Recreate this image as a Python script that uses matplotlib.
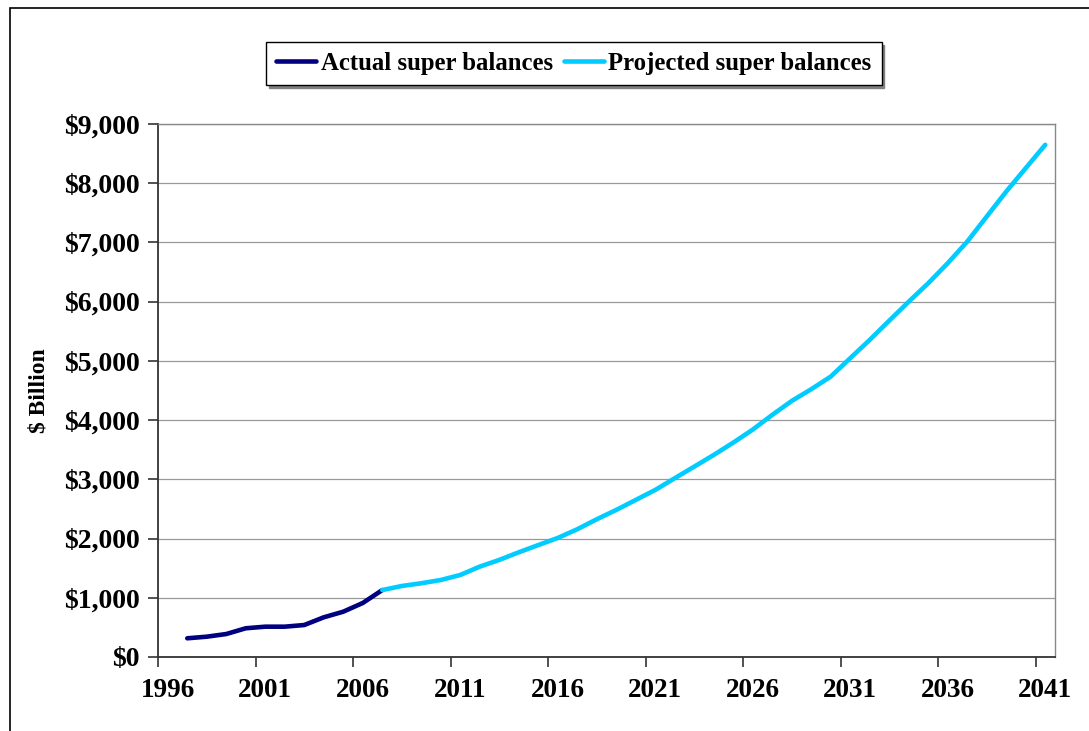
import matplotlib.pyplot as plt
from matplotlib.patches import Rectangle
from matplotlib.ticker import FuncFormatter

# Data ($ billion)
actual_years = list(range(1997, 2008))
actual_values = [316, 343, 388, 485, 512, 512, 540, 670, 765, 912, 1130]

projected_years = list(range(2007, 2042))
projected_values = [1130, 1199, 1245, 1300, 1385, 1526, 1639, 1768, 1890, 2010,
                    2157, 2326, 2483, 2652, 2821, 3019, 3215, 3412, 3620, 3840,
                    4088, 4324, 4522, 4735, 5046, 5355, 5680, 6000, 6312, 6650,
                    7015, 7438, 7860, 8255, 8649]

label_years = list(range(1996, 2042, 5))

plt.rcParams['font.family'] = ['Liberation Serif', 'DejaVu Serif']
plt.rcParams['font.weight'] = 'bold'

fig = plt.figure(figsize=(10.89, 7.31), dpi=100)
ax = fig.add_axes([158 / 1089, 1 - 657 / 731, (1055 - 158) / 1089, (657 - 124) / 731])

ax.plot(actual_years, actual_values, color='#000080', linewidth=3.3,
        solid_capstyle='round', solid_joinstyle='round', label='Actual super balances', zorder=3)
ax.plot(projected_years, projected_values, color='#00CCFF', linewidth=3.3,
        solid_capstyle='round', solid_joinstyle='round', label='Projected super balances', zorder=3)

ax.set_xlim(1995.5, 2041.5)
ax.set_ylim(0, 9000)

# category-style axis: ticks between categories, labels on categories
ax.set_xticks([y - 0.5 for y in label_years])
ax.set_xticklabels([])
ax.set_xticks(label_years, minor=True)
ax.set_xticklabels([str(y) for y in label_years], minor=True)
ax.tick_params(axis='x', which='major', direction='out', length=7, width=1.2, color='#333333')
ax.tick_params(axis='x', which='minor', length=0, pad=15, labelsize=19.5)

ax.set_yticks(range(0, 9001, 1000))
ax.yaxis.set_major_formatter(FuncFormatter(lambda v, p: '${:,.0f}'.format(v)))
ax.tick_params(axis='y', direction='out', length=7, width=1.2, color='#333333', pad=6, labelsize=20)

ax.grid(axis='y', color='#999999', linewidth=0.9)
ax.set_axisbelow(True)

for s in ['left', 'bottom']:
    ax.spines[s].set_color('#333333')
    ax.spines[s].set_linewidth(1.3)
for s in ['top', 'right']:
    ax.spines[s].set_color('#888888')
    ax.spines[s].set_linewidth(1.0)

ax.set_ylabel('$ Billion', fontsize=17, fontweight='bold')
ax.yaxis.set_label_coords(-0.121, 0.5)

leg = fig.legend(loc='center', bbox_to_anchor=(574 / 1089, 1 - 63.5 / 731), ncol=2,
                 fontsize=17.8, frameon=True, fancybox=False, handlelength=1.6,
                 handletextpad=0.2, columnspacing=0.45, borderpad=0.4,
                 shadow={'color': '#808080', 'alpha': 1})
leg.get_frame().set_edgecolor('black')
leg.get_frame().set_linewidth(1.0)
leg.get_frame().set_alpha(1)

# outer chart frame
fig.add_artist(Rectangle((10 / 1089, -0.2), 1.2, 1.2 - 8 / 731, transform=fig.transFigure,
                         fill=False, edgecolor='black', linewidth=1.2))

fig.savefig('out.png', dpi=100)
